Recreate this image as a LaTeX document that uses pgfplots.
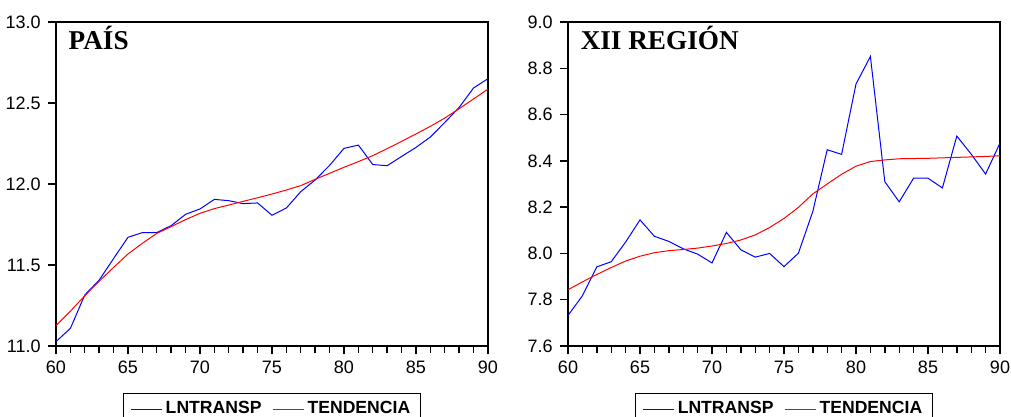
\documentclass[border=0pt]{standalone}
\usepackage{fontspec}
\setmainfont{Liberation Sans}
\newfontfamily\titlefont{Liberation Serif}
\usepackage{pgfplots}
\pgfplotsset{compat=1.18}
\pgfplotsset{
  eviews/.style={
    scale only axis, width=216pt, height=162pt, anchor=south west,
    xmin=60, xmax=90, xtick={60,65,...,90}, minor x tick num=4,
    tick align=outside, xtick pos=left, ytick pos=left,
    major tick length=4pt, minor tick length=3.4pt,
    every tick/.append style={black, line width=0.7pt},
    every axis/.append style={line width=0.75pt},
    tick label style={font=\fontsize{9}{10}\selectfont},
    /pgf/number format/assume math mode=true,
    y tick label style={/pgf/number format/fixed, /pgf/number format/fixed zerofill, /pgf/number format/precision=1},
    legend columns=2,
    legend style={at={(0.5,-0.145)}, anchor=north, draw=black, line width=0.6pt,
      font=\bfseries\fontsize{8.8}{10}\selectfont, inner xsep=3.5pt, inner ysep=2pt,
      nodes={inner xsep=1.75pt, inner ysep=2pt},
      /tikz/every even column/.append style={column sep=3.5pt}},
    legend image code/.code={\draw[#1] (0pt,0pt) -- (15.5pt,0pt);},
  },
  blueline/.style={color=blue, line width=0.5pt, mark=none},
  redline/.style={color=red, line width=0.5pt, mark=none},
}
\begin{document}
\begin{tikzpicture}
\useasboundingbox (0pt,0pt) rectangle (505.5pt,208.5pt);
\begin{axis}[eviews, at={(28pt,35.5pt)}, ymin=11, ymax=13, ytick={11,11.5,...,13}]
\addplot[blueline] coordinates {
(60,11.027) (61,11.109) (62,11.315) (63,11.407) (64,11.54) (65,11.671)
(66,11.700) (67,11.700) (68,11.743) (69,11.813) (70,11.846) (71,11.905)
(72,11.897) (73,11.879) (74,11.883) (75,11.807) (76,11.852) (77,11.953)
(78,12.025) (79,12.115) (80,12.220) (81,12.240) (82,12.120) (83,12.113)
(84,12.170) (85,12.226) (86,12.290) (87,12.380) (88,12.473) (89,12.593) (90,12.650)};
\addlegendentry{LNTRANSP}
\addplot[redline] coordinates {
(60,11.126) (61,11.215) (62,11.310) (63,11.400) (64,11.485) (65,11.568)
(66,11.634) (67,11.695) (68,11.737) (69,11.780) (70,11.819) (71,11.848)
(72,11.870) (73,11.893) (74,11.915) (75,11.938) (76,11.963) (77,11.990)
(78,12.029) (79,12.066) (80,12.103) (81,12.138) (82,12.175) (83,12.218)
(84,12.263) (85,12.309) (86,12.356) (87,12.407) (88,12.465) (89,12.525) (90,12.586)};
\addlegendentry{TENDENCIA}
\node[anchor=base west, inner sep=0pt, font=\titlefont\bfseries\fontsize{13.6}{15}\selectfont]
  at ([xshift=6pt,yshift=-14pt]rel axis cs:0,1) {PAÍS};
\end{axis}
\begin{axis}[eviews, at={(284pt,35.5pt)}, ymin=7.6, ymax=9.0, ytick={7.6,7.8,...,9.01}]
\addplot[blueline] coordinates {
(60,7.732) (61,7.817) (62,7.942) (63,7.964) (64,8.049) (65,8.145)
(66,8.074) (67,8.052) (68,8.020) (69,7.997) (70,7.959) (71,8.091)
(72,8.016) (73,7.984) (74,8.000) (75,7.943) (76,8.001) (77,8.181)
(78,8.448) (79,8.428) (80,8.732) (81,8.851) (82,8.310) (83,8.223)
(84,8.325) (85,8.325) (86,8.283) (87,8.507) (88,8.429) (89,8.343) (90,8.477)};
\addlegendentry{LNTRANSP}
\addplot[redline] coordinates {
(60,7.843) (61,7.877) (62,7.909) (63,7.939) (64,7.967) (65,7.988)
(66,8.003) (67,8.012) (68,8.017) (69,8.023) (70,8.032) (71,8.043)
(72,8.058) (73,8.080) (74,8.112) (75,8.151) (76,8.199) (77,8.257)
(78,8.300) (79,8.342) (80,8.377) (81,8.397) (82,8.404) (83,8.409)
(84,8.410) (85,8.411) (86,8.413) (87,8.415) (88,8.417) (89,8.419) (90,8.422)};
\addlegendentry{TENDENCIA}
\node[anchor=base west, inner sep=0pt, font=\titlefont\bfseries\fontsize{13.6}{15}\selectfont]
  at ([xshift=6pt,yshift=-14pt]rel axis cs:0,1) {XII REGIÓN};
\end{axis}
\end{tikzpicture}
\end{document}
